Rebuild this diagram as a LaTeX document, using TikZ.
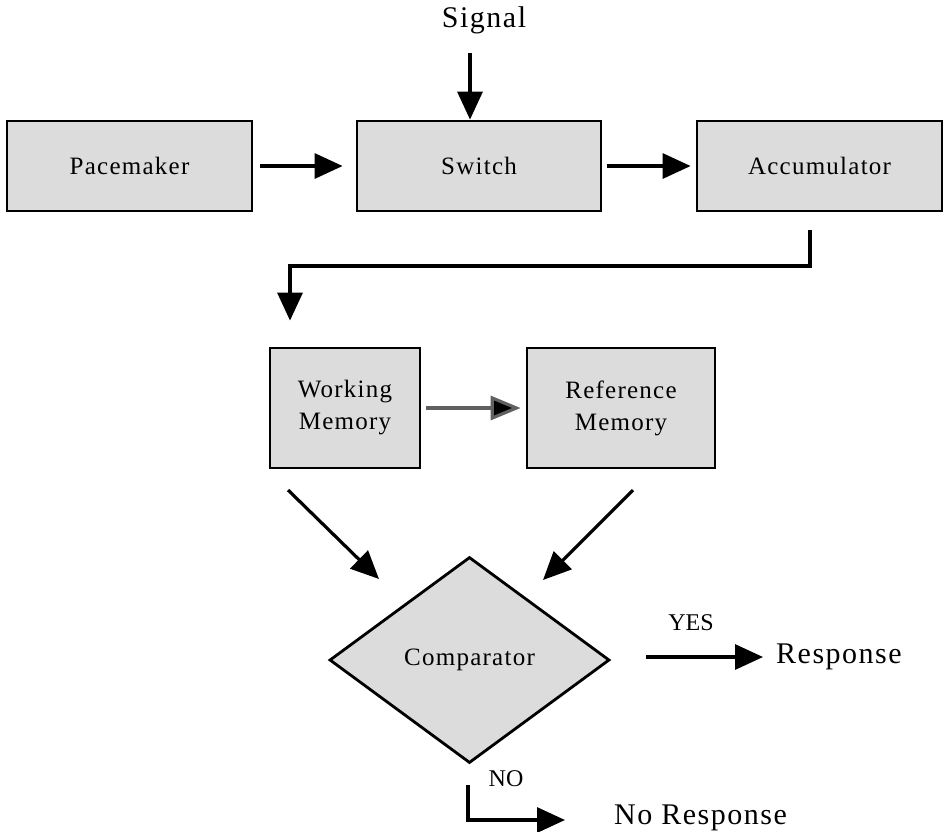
\documentclass[tikz,border=0pt]{standalone}
\usepackage{fontspec}
\setmainfont{Liberation Serif}
\newfontfamily\spacedserif[LetterSpace=5]{Liberation Serif}
\newfontfamily\widesserif[LetterSpace=5]{Liberation Serif}
\usetikzlibrary{arrows.meta,shapes.geometric}
\definecolor{boxgray}{RGB}{220,220,220}
\definecolor{linkgray}{RGB}{96,96,96}
\tikzset{
  stage/.style={draw=black, line width=2.8pt, fill=boxgray, inner sep=0pt,
    align=center, font=\spacedserif\fontsize{25}{32}\selectfont},
  decision/.style={diamond, draw=black, line width=2.8pt, fill=boxgray, inner sep=0pt,
    minimum width=280pt, minimum height=206pt,
    font=\spacedserif\fontsize{25}{32}\selectfont},
  bigtext/.style={inner sep=0pt, font=\widesserif\fontsize{30}{36}\selectfont},
  smalltext/.style={inner sep=0pt, font=\fontsize{24}{28}\selectfont},
  flow/.style={line width=3.2pt, -{Triangle[length=28pt,width=25pt]}},
  greyflow/.style={line width=3.2pt, draw=linkgray,
    -{Triangle[length=30pt,width=24pt,fill=black]}}
}
\begin{document}
\begin{tikzpicture}[x=1pt,y=-1pt]
\useasboundingbox (0,0) rectangle (944,831);

% processing stages
\node[stage, minimum width=245pt, minimum height=90pt] (pace) at (129.5,166) {Pacemaker};
\node[stage, minimum width=244pt, minimum height=90pt] (sw) at (479,166) {Switch};
\node[stage, minimum width=245pt, minimum height=90pt] (acc) at (819.5,166) {Accumulator};
\node[stage, minimum width=150pt, minimum height=120pt] (wm) at (345,408) {Working\\Memory};
\node[stage, minimum width=188pt, minimum height=120pt] (rm) at (621,408) {Reference\\Memory};
\node[decision] (comp) at (469.5,660) {Comparator};

% labels and outcomes
\node[bigtext] (sig) at (484,20) {Signal};
\node[bigtext, anchor=west] (resp) at (776,657) {Response};
\node[bigtext, anchor=west] (noresp) at (614,818) {No Response};
\node[smalltext] (yes) at (691,623) {YES};
\node[smalltext] (no) at (506,779) {NO};

% free ends of connectors
\coordinate (sigin) at (470,53);
\coordinate (accout) at (810,230);
\coordinate (turn) at (290,266);
\coordinate (wmout) at (288,490);
\coordinate (wmin) at (379,579);
\coordinate (rmout) at (633,490);
\coordinate (rmin) at (543,580);
\coordinate (yesout) at (646,657);
\coordinate (noout) at (468,785);
\coordinate (noturn) at (468,820);

% connectors
\draw[flow] (sigin) -- (sigin |- sw.north);
\draw[flow] ([xshift=7pt]pace.east) -- ([xshift=-13pt]sw.west);
\draw[flow] ([xshift=5pt]sw.east) -- ([xshift=-5pt]acc.west);
\draw[flow] (accout) |- (turn) -- ([yshift=26pt]turn |- wm.north);
\draw[greyflow] ([xshift=5pt]wm.east) -- ([xshift=-5pt]rm.west);
\draw[flow] (wmout) -- (wmin);
\draw[flow] (rmout) -- (rmin);
\draw[flow] (yesout) -- ([xshift=-13pt]resp.west);
\draw[flow] (noout) -- (noturn) -- ([xshift=-49pt]noturn -| noresp.west);
\end{tikzpicture}
\end{document}
